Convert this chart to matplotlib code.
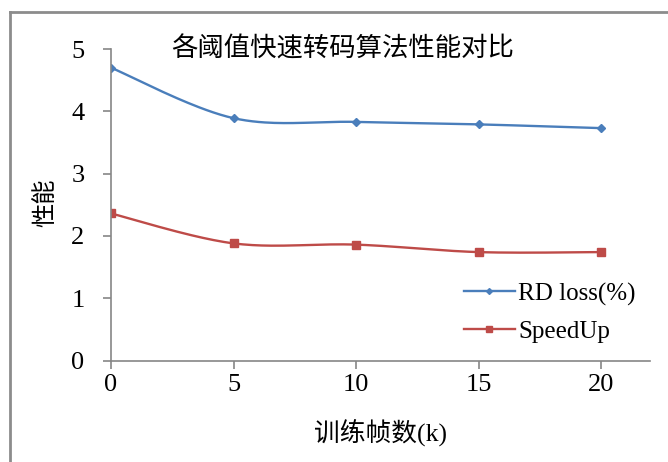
import numpy as np
import matplotlib
matplotlib.use("Agg")
import matplotlib.pyplot as plt
from matplotlib.lines import Line2D

# Data
frames_k = [0, 5, 10, 15, 20]
rd_loss = [4.70, 3.89, 3.83, 3.79, 3.73]
speedup = [2.36, 1.88, 1.86, 1.74, 1.74]
x_ticks = [0, 5, 10, 15, 20]
y_ticks = [0, 1, 2, 3, 4, 5]

title = "各阈值快速转码算法性能对比"
xlabel = "训练帧数(k)"
ylabel = "性能"

CJK = ["Noto Sans CJK SC", "DejaVu Sans"]
SERIF = ["Liberation Serif", "DejaVu Serif"]


def smooth(xs, ys, n=40):
    """Bezier smoothing through every point (Catmull-Rom style control points)."""
    p = np.column_stack([xs, ys]).astype(float)
    ext = np.vstack([p[0], p, p[-1]])
    out = []
    t = np.linspace(0, 1, n)[:, None]
    for i in range(len(p) - 1):
        p0, p3 = ext[i + 1], ext[i + 2]
        c1 = p0 + (ext[i + 2] - ext[i]) / 6.0
        c2 = p3 - (ext[i + 3] - ext[i + 1]) / 6.0
        seg = ((1 - t) ** 3) * p0 + 3 * ((1 - t) ** 2) * t * c1 \
            + 3 * (1 - t) * t ** 2 * c2 + t ** 3 * p3
        out.append(seg if i == 0 else seg[1:])
    s = np.vstack(out)
    return s[:, 0], s[:, 1]


W, H = 668, 462
fig = plt.figure(figsize=(W / 100, H / 100), dpi=100)
fig.patch.set_facecolor("white")

ax = fig.add_axes([111 / W, 1 - 360.5 / H, (650 - 111) / W, (360.5 - 49) / H])
ax.set_xlim(0, 22)
ax.set_ylim(0, 5)

blue = "#4A7EBB"
red = "#BE4B48"

sx, sy = smooth(frames_k, rd_loss)
ax.plot(sx, sy, color=blue, lw=1.7, solid_capstyle="round")
ax.plot(frames_k, rd_loss, ls="none", marker="D", ms=4.5, color=blue)

sx, sy = smooth(frames_k, speedup)
ax.plot(sx, sy, color=red, lw=1.7, solid_capstyle="round")
ax.plot(frames_k, speedup, ls="none", marker="s", ms=5.5, color=red)

for s in ("top", "right"):
    ax.spines[s].set_visible(False)
for s in ("left", "bottom"):
    ax.spines[s].set_color("#868686")
    ax.spines[s].set_linewidth(1.2)

ax.set_xticks(x_ticks)
ax.set_yticks(y_ticks)
ax.tick_params(axis="both", direction="out", length=6, width=1.2, color="#868686")
ax.tick_params(axis="y", pad=13)
ax.tick_params(axis="x", pad=4)
for lab in ax.get_xticklabels() + ax.get_yticklabels():
    lab.set_fontfamily(SERIF)
    lab.set_fontsize(19)

ax.text(0.43, 1.0, title, transform=ax.transAxes, ha="center", va="center",
        family=CJK, fontsize=19)
fig.text(380 / W, 1 - 433 / H, xlabel, ha="center", va="center",
         family=["Liberation Serif", "Noto Sans CJK SC"], fontsize=18.5)
fig.text(45 / W, 1 - 203 / H, ylabel, ha="center", va="center", rotation=90,
         family=CJK, fontsize=17.5)

handles = [
    Line2D([], [], color=blue, lw=1.7, marker="D", ms=3),
    Line2D([], [], color=red, lw=1.7, marker="s", ms=4),
]
ax.legend(handles, ["RD loss(%)", "SpeedUp"], loc="upper left",
          bbox_to_anchor=((451 - 111) / (650 - 111), (360.5 - 270) / (360.5 - 49)),
          frameon=False, prop={"family": SERIF, "size": 18},
          handlelength=2.05, handletextpad=0.15, labelspacing=0.6, borderpad=0)

# outer chart border (left and top edges)
border = dict(color="#8C8C8C", lw=2.0, transform=fig.transFigure)
fig.add_artist(Line2D([10 / W, 10 / W], [0, 1 - 12 / H], **border))
fig.add_artist(Line2D([10 / W, 1], [1 - 12 / H, 1 - 12 / H], **border))

fig.savefig("out.png", dpi=100, facecolor="white")
